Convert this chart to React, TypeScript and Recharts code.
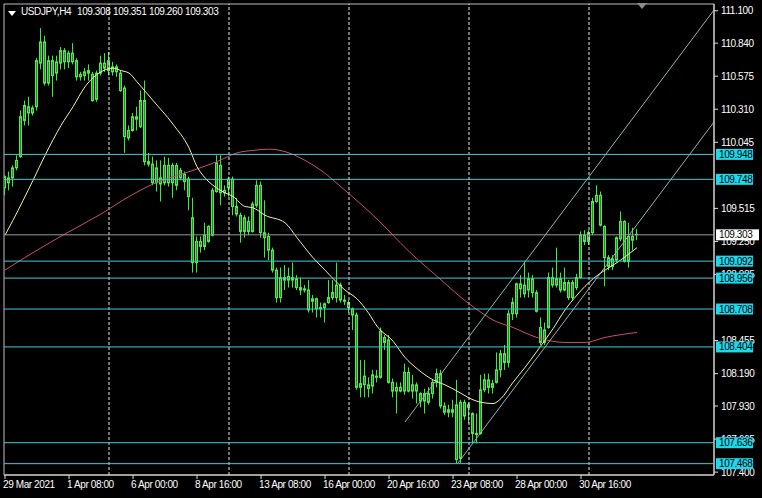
import React from 'react';
import {
  ComposedChart,
  Bar,
  Line,
  XAxis,
  YAxis,
  ReferenceLine,
  ReferenceArea
} from 'recharts';

// USDJPY H4 candles, bar 0 = 29 Mar 2021 16:00
const opens = [
  109.68, 109.76, 109.76, 109.84, 109.93, 110.22, 110.33, 110.28, 110.33, 110.68,
  110.85, 110.52, 110.70, 110.60, 110.68, 110.78, 110.69, 110.76, 110.70, 110.57,
  110.58, 110.60, 110.59, 110.39, 110.60, 110.68, 110.62, 110.65, 110.61, 110.60,
  110.48, 110.08, 110.14, 110.25, 110.17, 110.38, 109.89, 109.87, 109.72, 109.76,
  109.72, 109.86, 109.72, 109.86, 109.76, 109.79, 109.75, 109.44, 109.08, 109.25,
  109.21, 109.25, 109.30, 109.65, 109.86, 109.64, 109.68, 109.75, 109.53, 109.46,
  109.33, 109.41, 109.33, 109.54, 109.70, 109.32, 109.29, 109.18, 109.02, 108.80,
  108.96, 108.94, 108.96, 108.95, 108.88, 108.86, 108.86, 108.77, 108.79, 108.71,
  108.72, 108.76, 108.80, 108.80, 108.90, 108.78, 108.76, 108.71, 108.66, 108.08,
  108.10, 108.07, 108.09, 108.17, 108.16, 108.48, 108.46, 108.12, 108.05, 108.08,
  108.05, 108.20, 108.05, 108.10, 108.03, 107.97, 108.03, 108.03, 108.12, 108.19,
  107.93, 107.88, 107.90, 107.94, 107.51, 107.96, 107.92, 107.87, 107.71, 107.71,
  108.06, 108.14, 108.08, 108.12, 108.22, 108.35, 108.28, 108.67, 108.67, 108.91,
  108.90, 108.86, 108.95, 108.84, 108.56, 108.44, 108.56, 108.96, 108.90, 108.95,
  108.86, 108.92, 108.80, 108.88, 108.96, 109.30, 109.25, 109.32, 109.57, 109.62,
  109.37, 109.12, 109.05, 109.10, 109.27, 109.41, 109.09, 109.29, 109.308
];
const highs = [
  109.78, 109.81, 109.86, 109.94, 110.30, 110.38, 110.41, 110.34, 110.72, 110.96,
  110.90, 110.74, 110.74, 110.74, 110.81, 110.80, 110.78, 110.84, 110.72, 110.61,
  110.64, 110.67, 110.61, 110.62, 110.74, 110.76, 110.77, 110.69, 110.67, 110.62,
  110.50, 110.18, 110.28, 110.33, 110.46, 110.54, 109.96, 109.93, 109.90, 109.90,
  109.93, 109.92, 109.88, 109.88, 109.84, 109.81, 109.77, 109.60, 109.29, 109.29,
  109.40, 109.38, 109.68, 109.94, 109.94, 109.70, 109.77, 109.77, 109.60, 109.48,
  109.46, 109.45, 109.57, 109.74, 109.73, 109.58, 109.32, 109.20, 109.04, 109.04,
  109.06, 109.04, 109.08, 108.98, 108.96, 108.90, 108.94, 108.82, 108.80, 108.76,
  108.76, 108.94, 108.94, 109.08, 108.92, 108.82, 108.78, 108.72, 108.68, 108.30,
  108.30, 108.16, 108.22, 108.22, 108.56, 108.50, 108.50, 108.15, 108.12, 108.12,
  108.27, 108.24, 108.18, 108.12, 108.04, 108.07, 108.08, 108.14, 108.23, 108.22,
  107.96, 107.94, 107.98, 108.14, 107.98, 107.98, 107.96, 107.88, 107.87, 108.18,
  108.19, 108.19, 108.14, 108.36, 108.38, 108.42, 108.70, 108.80, 108.92, 108.98,
  109.08, 109.00, 108.98, 108.86, 108.64, 108.60, 109.00, 109.04, 109.20, 109.00,
  109.04, 108.94, 108.94, 108.99, 109.33, 109.34, 109.34, 109.60, 109.70, 109.65,
  109.38, 109.14, 109.14, 109.29, 109.49, 109.42, 109.40, 109.36, 109.351
];
const lows = [
  109.62, 109.66, 109.69, 109.82, 109.92, 110.18, 110.18, 110.26, 110.30, 110.63,
  110.50, 110.50, 110.41, 110.54, 110.63, 110.63, 110.64, 110.67, 110.54, 110.54,
  110.54, 110.54, 110.37, 110.37, 110.58, 110.61, 110.58, 110.58, 110.57, 110.45,
  109.96, 110.06, 110.13, 110.14, 110.16, 109.86, 109.85, 109.70, 109.65, 109.57,
  109.70, 109.69, 109.60, 109.66, 109.74, 109.66, 109.50, 109.00, 109.00, 109.16,
  109.18, 109.24, 109.29, 109.64, 109.54, 109.61, 109.61, 109.46, 109.45, 109.24,
  109.28, 109.30, 109.32, 109.52, 109.28, 109.12, 109.10, 109.00, 108.76, 108.76,
  108.86, 108.88, 108.88, 108.86, 108.82, 108.84, 108.68, 108.68, 108.64, 108.64,
  108.60, 108.75, 108.78, 108.76, 108.76, 108.74, 108.68, 108.54, 108.06, 108.00,
  108.00, 108.00, 108.03, 108.12, 108.15, 108.38, 108.11, 108.00, 107.87, 108.04,
  108.02, 108.04, 107.99, 107.95, 107.92, 107.87, 107.94, 107.99, 108.08, 107.91,
  107.86, 107.84, 107.84, 107.47, 107.47, 107.82, 107.79, 107.63, 107.63, 107.70,
  108.04, 108.03, 108.03, 108.11, 108.16, 108.22, 108.24, 108.62, 108.64, 108.80,
  108.80, 108.80, 108.80, 108.68, 108.42, 108.42, 108.55, 108.88, 108.88, 108.84,
  108.85, 108.78, 108.78, 108.86, 108.95, 109.22, 109.22, 109.30, 109.56, 109.37,
  108.89, 109.02, 109.02, 109.08, 109.25, 109.08, 109.04, 109.18, 109.260
];
const closes = [
  109.77, 109.72, 109.84, 109.90, 110.25, 110.34, 110.28, 110.32, 110.70, 110.85,
  110.52, 110.70, 110.58, 110.69, 110.78, 110.69, 110.76, 110.69, 110.57, 110.59,
  110.61, 110.62, 110.38, 110.60, 110.68, 110.64, 110.70, 110.61, 110.65, 110.46,
  110.09, 110.14, 110.25, 110.23, 110.38, 109.89, 109.87, 109.72, 109.84, 109.71,
  109.86, 109.72, 109.86, 109.70, 109.82, 109.73, 109.61, 109.08, 109.25, 109.21,
  109.30, 109.37, 109.66, 109.88, 109.64, 109.66, 109.75, 109.53, 109.47, 109.33,
  109.44, 109.33, 109.55, 109.70, 109.32, 109.28, 109.18, 109.02, 108.80, 108.96,
  108.94, 108.97, 108.94, 108.88, 108.86, 108.87, 108.70, 108.79, 108.71, 108.72,
  108.75, 108.80, 108.84, 108.90, 108.78, 108.77, 108.72, 108.66, 108.08, 108.11,
  108.17, 108.10, 108.18, 108.16, 108.53, 108.44, 108.12, 108.05, 108.08, 108.05,
  108.20, 108.05, 108.10, 108.05, 107.97, 108.03, 107.96, 108.12, 108.19, 107.93,
  107.88, 107.90, 107.88, 107.50, 107.96, 107.85, 107.94, 107.71, 107.70, 108.06,
  108.14, 108.08, 108.11, 108.22, 108.35, 108.28, 108.67, 108.76, 108.91, 108.87,
  108.83, 108.95, 108.84, 108.69, 108.44, 108.54, 108.96, 108.90, 108.95, 108.86,
  108.92, 108.80, 108.92, 108.96, 109.30, 109.25, 109.32, 109.57, 109.62, 109.38,
  109.12, 109.05, 109.11, 109.28, 109.41, 109.09, 109.29, 109.26, 109.303
];

// moving averages, read at a few bars
const maFastBars = [
  0, 2, 7, 10, 14, 17, 20, 24, 27, 29, 31, 33, 37, 42, 46, 48, 50, 52, 55, 57,
  60, 62, 65, 70, 73, 77, 80, 83, 85, 88, 91, 93, 97, 100, 103, 107, 110, 113, 117, 119,
  122, 124, 127, 130, 133, 137, 140, 143, 147, 150, 153, 156, 158
];
const maFastValues = [
  109.30, 109.42, 109.74, 109.94, 110.18, 110.33, 110.49, 110.61, 110.64, 110.62,
  110.60, 110.53, 110.38, 110.19, 110.00, 109.85, 109.76, 109.70, 109.64, 109.61,
  109.53, 109.52, 109.46, 109.40, 109.28, 109.12, 109.02, 108.92, 108.86, 108.79,
  108.67, 108.57, 108.45, 108.32, 108.23, 108.14, 108.10, 108.05, 107.98, 107.96,
  107.95, 107.99, 108.12, 108.24, 108.37, 108.55, 108.70, 108.82, 108.95, 109.02,
  109.08, 109.15, 109.20
];
const maSlowBars = [
  0, 7, 15, 24, 31, 37, 47, 53, 58, 62, 66, 70, 75, 79, 85, 93, 101, 108, 116, 120,
  122, 127, 133, 140, 145, 150, 158
];
const maSlowValues = [
  109.02, 109.16, 109.31, 109.47, 109.61, 109.71, 109.82, 109.89, 109.96, 109.98,
  109.99, 109.97, 109.90, 109.82, 109.66, 109.43, 109.17, 108.97, 108.75, 108.66,
  108.62, 108.56, 108.48, 108.44, 108.44, 108.48, 108.52
];

// trend channel (two parallel rays)
const upperChannelBars = [100, 177.25];
const upperChannelValues = [107.802, 111.106];
const lowerChannelBars = [113.25, 177.25];
const lowerChannelValues = [107.473, 110.208];

const levels = [109.948, 109.748, 109.092, 108.956, 108.708, 108.404, 107.636, 107.468];
const lastPrice = 109.303;
const titleValues = ['109.308', '109.351', '109.260', '109.303'];

const separatorBars = [26, 56, 86, 116, 146];
const timeTickBars = [0, 16, 32, 48, 64, 80, 96, 112, 128, 144];
const timeTickLabels = [
  '29 Mar 2021', '1 Apr 08:00', '6 Apr 00:00', '8 Apr 16:00', '13 Apr 08:00',
  '16 Apr 00:00', '20 Apr 16:00', '23 Apr 08:00', '28 Apr 00:00', '30 Apr 16:00'
];
const priceTicks = [
  111.1, 110.84, 110.575, 110.31, 110.045, 109.515, 109.25, 108.985,
  108.455, 108.19, 107.93, 107.665, 107.4
];

const X_DOMAIN: [number, number] = [-0.25, 177.25];
const Y_DOMAIN: [number, number] = [107.377, 111.154];
const FONT = "'Liberation Sans', Arial, sans-serif";
const SPACING = '-0.4px';

const candles = opens.map((o, i) => ({
  i,
  o,
  h: highs[i],
  l: lows[i],
  c: closes[i],
  range: [lows[i], highs[i]]
}));
const toSeries = (bars: number[], values: number[]) => bars.map((i, k) => ({ i, v: values[k] }));

const Candle = (props: any) => {
  const { x, y, width, height, payload } = props;
  if (x == null || y == null) return null;
  const { o, h, l, c } = payload;
  const span = h - l || 1;
  const k = height / span;
  const top = y + (h - Math.max(o, c)) * k;
  const bot = y + (h - Math.min(o, c)) * k;
  const px = Math.floor(x + width / 2);
  return (
    <g>
      <line x1={px + 0.5} x2={px + 0.5} y1={y} y2={top} stroke="#3ee83e" strokeWidth={1} />
      <line x1={px + 0.5} x2={px + 0.5} y1={bot} y2={y + height} stroke="#3ee83e" strokeWidth={1} />
      <rect
        x={px - 0.5}
        y={top}
        width={2}
        height={Math.max(bot - top, 0.5)}
        fill="#2a8c2a"
        stroke="#48f048"
        strokeWidth={1}
      />
    </g>
  );
};

const LevelTag = ({ viewBox, text, bg, w }: any) => {
  if (!viewBox) return null;
  const x = viewBox.x + viewBox.width;
  const y = viewBox.y;
  return (
    <g>
      <rect x={x + 2} y={y - 5.5} width={w} height={11} fill={bg} />
      <text x={x + 5} y={y + 3.5} fontSize={10} fontFamily={FONT} letterSpacing={SPACING} fill="#000">
        {text}
      </text>
    </g>
  );
};

const TimeTick = ({ x, y, payload }: any) => {
  const idx = timeTickBars.indexOf(payload.value);
  return (
    <text
      x={x - 2}
      y={y + 7}
      fill="#fff"
      fontSize={10}
      fontFamily={FONT}
      letterSpacing={SPACING}
      textAnchor="start"
    >
      {timeTickLabels[idx]}
    </text>
  );
};

const PriceTick = ({ x, y, payload }: any) => (
  <text x={x} y={y + 3.5} fill="#fff" fontSize={10} fontFamily={FONT} letterSpacing={SPACING} textAnchor="start">
    {Number(payload.value).toFixed(3)}
  </text>
);

const textStyle: React.CSSProperties = {
  position: 'absolute',
  top: 6,
  color: '#fff',
  fontSize: 10,
  fontFamily: FONT,
  letterSpacing: SPACING,
  whiteSpace: 'nowrap'
};

export default function App() {
  return (
    <div style={{ position: 'fixed', left: 0, top: 0, width: 762, height: 498, background: '#000' }}>
      <ComposedChart
        width={762}
        height={498}
        data={candles}
        margin={{ top: 4, right: 0, bottom: 0, left: 4 }}
      >
        <XAxis
          dataKey="i"
          type="number"
          domain={X_DOMAIN}
          allowDataOverflow
          ticks={timeTickBars}
          interval={0}
          height={23}
          tickSize={4}
          tickMargin={2}
          axisLine={{ stroke: '#e0e0e0' }}
          tickLine={{ stroke: '#e0e0e0' }}
          tick={<TimeTick />}
        />
        <YAxis
          orientation="right"
          type="number"
          domain={Y_DOMAIN}
          allowDataOverflow
          ticks={priceTicks}
          interval={0}
          width={48}
          tickSize={4}
          tickMargin={3}
          axisLine={{ stroke: '#e0e0e0' }}
          tickLine={{ stroke: '#e0e0e0' }}
          tick={<PriceTick />}
        />
        <ReferenceArea
          x1={X_DOMAIN[0]}
          x2={X_DOMAIN[1]}
          y1={Y_DOMAIN[0]}
          y2={Y_DOMAIN[1]}
          fill="none"
          fillOpacity={0}
          stroke="#bdbdbd"
          strokeWidth={1}
        />
        {separatorBars.map((b) => (
          <ReferenceLine key={b} x={b} stroke="#e8e8e8" strokeDasharray="3 2" />
        ))}
        <Bar dataKey="range" barSize={3} isAnimationActive={false} shape={(p: any) => <Candle {...p} />} />
        <Line
          data={toSeries(maSlowBars, maSlowValues)}
          dataKey="v"
          type="monotone"
          stroke="#c8506e"
          strokeWidth={1}
          dot={false}
          isAnimationActive={false}
        />
        <Line
          data={toSeries(maFastBars, maFastValues)}
          dataKey="v"
          type="monotone"
          stroke="#f2f2a6"
          strokeWidth={1}
          dot={false}
          isAnimationActive={false}
        />
        <Line
          data={toSeries(upperChannelBars, upperChannelValues)}
          dataKey="v"
          type="linear"
          stroke="#8cb6b6"
          strokeWidth={1}
          dot={false}
          isAnimationActive={false}
        />
        <Line
          data={toSeries(lowerChannelBars, lowerChannelValues)}
          dataKey="v"
          type="linear"
          stroke="#8cb6b6"
          strokeWidth={1}
          dot={false}
          isAnimationActive={false}
        />
      </ComposedChart>

      {/* price levels and their tags sit on top of the axis labels */}
      <div style={{ position: 'absolute', left: 0, top: 0 }}>
        <ComposedChart
          width={762}
          height={498}
          data={candles}
          margin={{ top: 4, right: 48, bottom: 23, left: 4 }}
        >
          <XAxis dataKey="i" type="number" domain={X_DOMAIN} allowDataOverflow hide />
          <YAxis type="number" domain={Y_DOMAIN} allowDataOverflow hide />
          <ReferenceLine
            y={lastPrice}
            stroke="#9a9a9a"
            label={(p: any) => <LevelTag viewBox={p.viewBox} text={lastPrice.toFixed(3)} bg="#fff" w={43} />}
          />
          {levels.map((lv) => (
            <ReferenceLine
              key={lv}
              y={lv}
              stroke="#40ccd4"
              label={(p: any) => <LevelTag viewBox={p.viewBox} text={lv.toFixed(3)} bg="#1ed8ee" w={37} />}
            />
          ))}
        </ComposedChart>
      </div>

      <div
        style={{
          position: 'absolute',
          left: 8,
          top: 11,
          width: 0,
          height: 0,
          borderLeft: '4px solid transparent',
          borderRight: '4px solid transparent',
          borderTop: '5px solid #fff'
        }}
      />
      <span style={{ ...textStyle, left: 21 }}>USDJPY,H4</span>
      {titleValues.map((t, k) => (
        <span key={k} style={{ ...textStyle, left: 77 + k * 36 }}>
          {t}
        </span>
      ))}
      <div
        style={{
          position: 'absolute',
          left: 637,
          top: 3,
          width: 0,
          height: 0,
          borderLeft: '5px solid transparent',
          borderRight: '5px solid transparent',
          borderTop: '6px solid #8c8c8c'
        }}
      />
    </div>
  );
}
